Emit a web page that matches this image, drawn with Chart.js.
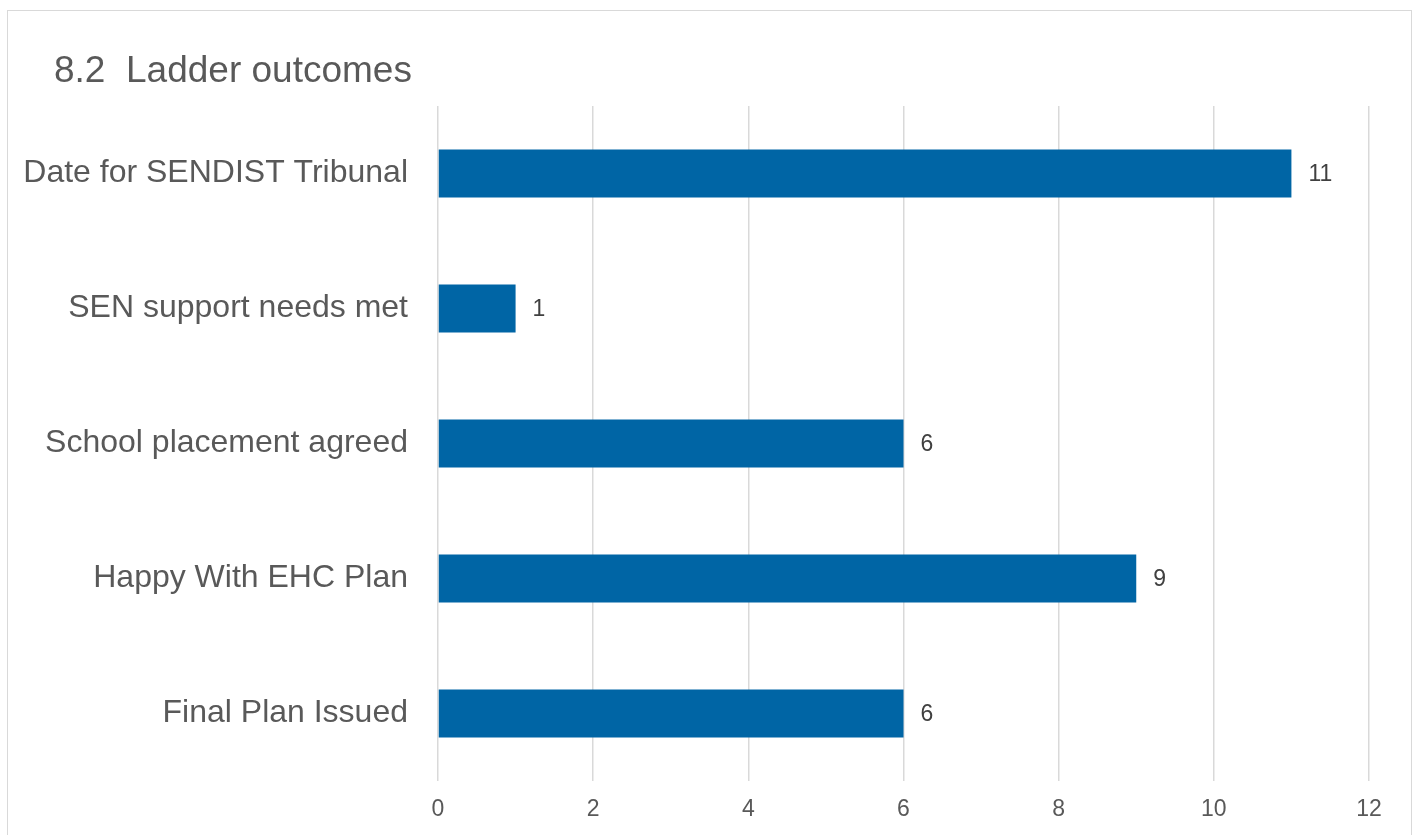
<!DOCTYPE html>
<html>
<head>
<meta charset="utf-8">
<script src="https://cdn.jsdelivr.net/npm/chart.js@4/dist/chart.umd.min.js"></script>
<style>
  html, body { margin: 0; padding: 0; background: #fff; overflow: hidden; }
  #frame { position: absolute; left: 7px; top: 10px; width: 1403px; height: 840px; border: 1px solid #d9d9d9; }
  #wrap { position: absolute; left: 0; top: 0; width: 1416px; height: 835px; }
</style>
</head>
<body>
<div id="frame"></div>
<div id="wrap"><canvas id="myChart"></canvas></div>
<script>
// chart data
var categories = ["Date for SENDIST Tribunal", "SEN support needs met", "School placement agreed", "Happy With EHC Plan", "Final Plan Issued"];
var values = [11, 1, 6, 9, 6];
var xTicks = [0, 2, 4, 6, 8, 10, 12];
var titleText = '8.2  Ladder outcomes';

var textColor = '#595959';
var fontFamily = "'Liberation Sans', Arial, sans-serif";

// title drawn at the top left of the frame
var chartTitle = {
  id: 'chartTitle',
  afterDraw: function(chart) {
    var ctx = chart.ctx;
    ctx.save();
    ctx.font = '37px ' + fontFamily;
    ctx.fillStyle = textColor;
    ctx.textAlign = 'left';
    ctx.textBaseline = 'alphabetic';
    ctx.fillText(titleText, 54, 82);
    ctx.restore();
  }
};

// draw value next to each bar
var barValues = {
  id: 'barValues',
  afterDatasetsDraw: function(chart) {
    var ctx = chart.ctx;
    var meta = chart.getDatasetMeta(0);
    ctx.save();
    ctx.font = '23px ' + fontFamily;
    ctx.fillStyle = '#404040';
    ctx.textAlign = 'left';
    ctx.textBaseline = 'middle';
    meta.data.forEach(function(bar, i) {
      ctx.fillText(chart.data.datasets[0].data[i], bar.x + 17, bar.y + 1);
    });
    ctx.restore();
  }
};

var chart = new Chart(document.getElementById('myChart'), {
  type: 'bar',
  data: {
    labels: categories,
    datasets: [{
      data: values,
      backgroundColor: '#0065a5',
      barPercentage: 0.355,
      categoryPercentage: 1
    }]
  },
  plugins: [barValues, chartTitle],
  options: {
    indexAxis: 'y',
    responsive: true,
    maintainAspectRatio: false,
    animation: false,
    layout: {
      padding: { left: 10, right: 47, top: 106, bottom: 0 }
    },
    plugins: {
      legend: { display: false },
      tooltip: { enabled: false },
      title: { display: false }
    },
    scales: {
      x: {
        min: 0,
        max: 12,
        afterBuildTicks: function(scale) {
          scale.ticks = xTicks.map(function(v) { return { value: v }; });
        },
        afterFit: function(scale) { scale.height = 54; },
        grid: { color: '#d9d9d9', lineWidth: 1.5, drawTicks: false },
        border: { display: false },
        ticks: {
          color: textColor,
          padding: 15,
          font: { family: fontFamily, size: 23 }
        }
      },
      y: {
        afterFit: function(scale) { scale.width = 438 - 10; },
        grid: { display: false, drawTicks: false },
        border: { display: false },
        ticks: {
          color: textColor,
          padding: 30,
          font: { family: fontFamily, size: 32 }
        }
      }
    }
  }
});
</script>
</body>
</html>
